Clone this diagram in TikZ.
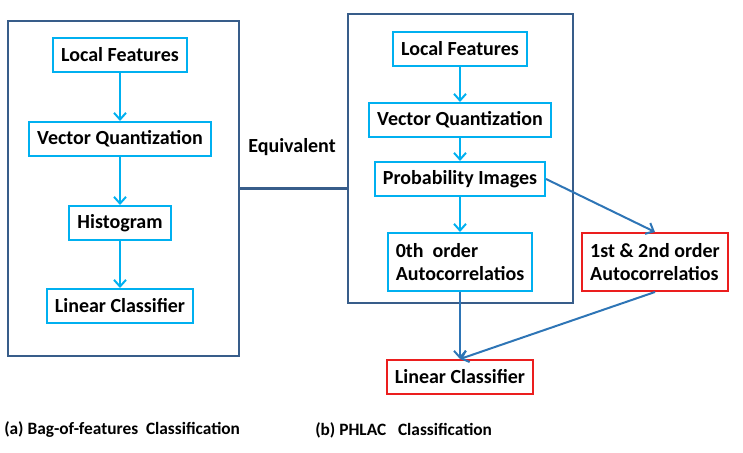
\documentclass[tikz,border=0pt]{standalone}
\usepackage{fontspec}
\setmainfont{Carlito}
\usetikzlibrary{arrows.meta}
\definecolor{celeste}{RGB}{0,176,240}
\definecolor{marcoazul}{RGB}{56,93,138}
\definecolor{azulflecha}{RGB}{46,117,182}
\definecolor{rojo}{RGB}{235,30,30}
\begin{document}
\begin{tikzpicture}[
  x=0.75pt, y=-0.75pt,
  every node/.style={font=\bfseries\fontsize{15}{17}\selectfont},
  marco/.style={draw=marcoazul, line width=1.6pt},
  paso/.style={draw=celeste, line width=1.5pt, inner xsep=6pt, minimum height=25.5pt},
  doble/.style={align=left, inner xsep=6pt, minimum height=43.5pt},
  final/.style={paso, draw=rojo},
  rotulo/.style={anchor=west, inner sep=0pt, font=\bfseries\fontsize{13}{15}\selectfont},
  flecha/.style={draw=celeste, line width=1.5pt, -{Straight Barb[length=5pt, width=9pt]}},
  flechab/.style={draw=azulflecha, line width=1.5pt, -{Straight Barb[length=5pt, width=9pt]}}
]
  \useasboundingbox (0,0) rectangle (743,453);

  % Marcos de las dos clasificaciones
  \node[marco, minimum width=173.25pt, minimum height=251.25pt] (bof) at (123.5,188.5) {};
  \node[marco, minimum width=168.75pt, minimum height=216.75pt] (phlac) at (460.5,158.5) {};

  % Bag-of-features
  \node[paso] (lf1) at (120,55) {Local Features};
  \node[paso] (vq1) at (120,139) {Vector Quantization};
  \node[paso] (hist) at (120,223) {Histogram};
  \node[paso] (lin1) at (120,306) {Linear Classifier};

  % PHLAC
  \node[paso] (lf2) at (460,49) {Local Features};
  \node[paso] (vq2) at (460,120) {Vector Quantization};
  \node[paso] (prob) at (460,179) {Probability Images};
  \node[paso, doble] (ord0) at (460,262) {0th~ order\\Autocorrelatios};
  \node[final, doble] (ord12) at (655,262) {1st \& 2nd order\\Autocorrelatios};
  \node[final] (lin2) at (460,377) {Linear Classifier};

  % Etiquetas
  \node (equiv) at (292,147) {Equivalent};
  \node[rotulo] (capa) at (4,430) {(a) Bag-of-features~ Classification};
  \node[rotulo] (capb) at (315,430) {(b) PHLAC~~ Classification};

  % Flechas
  \draw[flecha] (lf1) -- (vq1);
  \draw[flecha] (vq1) -- (hist);
  \draw[flecha] (hist) -- (lin1);
  \draw[flecha] (lf2) -- (vq2);
  \draw[flecha] (vq2) -- (prob);
  \draw[flecha] (prob) -- (ord0);
  \draw[flechab] (prob.east) -- (ord12.north);
  \draw[flechab] (ord0.south) -- (lin2.north);
  \draw[flechab] (ord12.south) -- (lin2.north);

  % Linea de equivalencia
  \draw[marco] (bof.east) -- (bof.east -| phlac.west);

\end{tikzpicture}
\end{document}
